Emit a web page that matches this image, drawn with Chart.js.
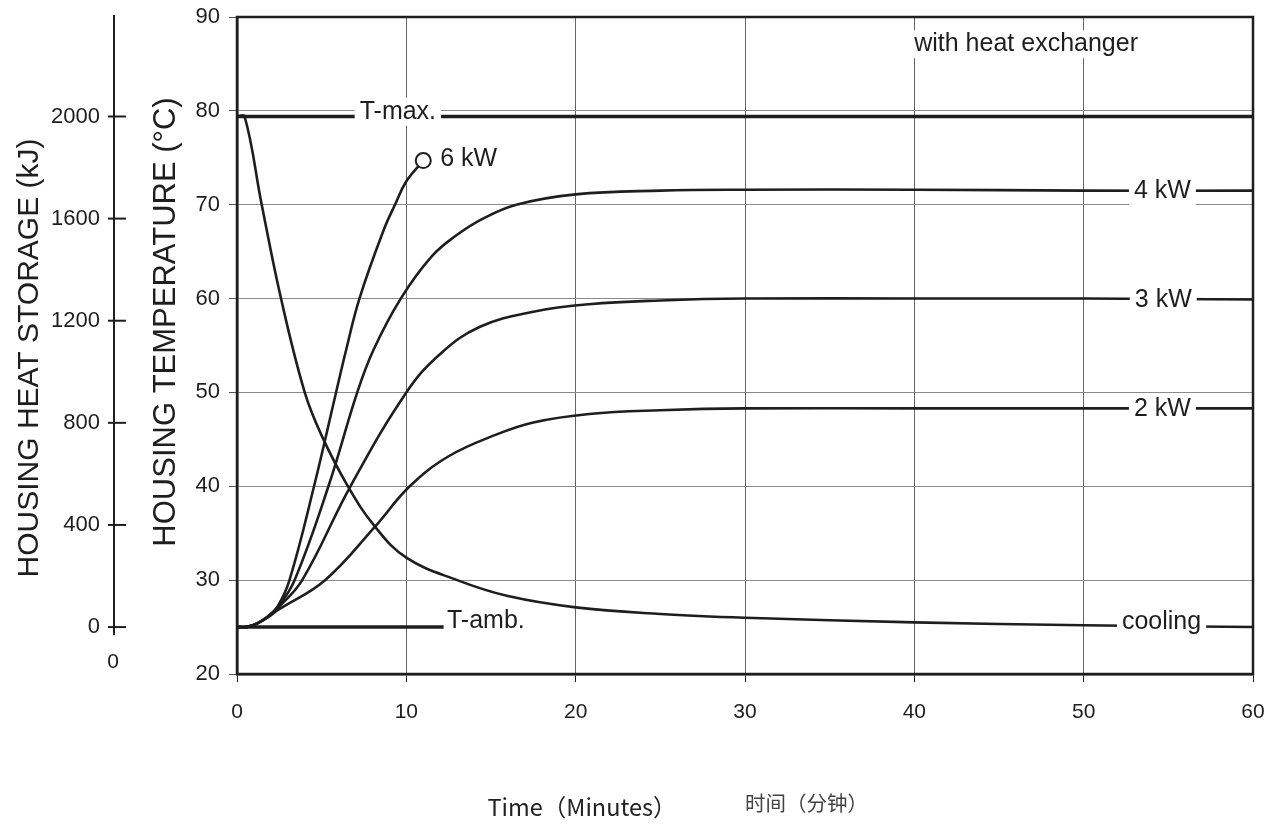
<!DOCTYPE html>
<html>
<head>
<meta charset="utf-8">
<script src="https://cdn.jsdelivr.net/npm/chart.js@4.4.1/dist/chart.umd.min.js"></script>
<style>
  html, body { margin: 0; padding: 0; background: #fff; }
  #wrap { width: 1279px; height: 825px; position: relative; }
</style>
</head>
<body>
<div id="wrap"><canvas id="grafico"></canvas></div>
<script>
// valores (tempo em minutos, temperatura em graus C)
var tempoCooling = [0, 0.45, 1.46, 2.6, 4.0, 5, 6.55, 8.15, 10, 13, 16, 20, 25, 30, 40, 50, 60];
var tempCooling  = [79.4, 79.4, 70, 60, 50, 45.4, 40, 35.7, 32.4, 30, 28.3, 27.1, 26.4, 26, 25.5, 25.2, 25];

var tempo6kW = [0, 0.6, 1.2, 1.8, 2.4, 3.1, 4.55, 5.85, 6.44, 7.23, 8.64, 9.33, 10, 11];
var temp6kW  = [25, 25.02, 25.4, 26.1, 27.2, 30, 40, 50, 54.5, 60, 67.2, 70, 72.5, 74.7];

var tempo4kW = [0, 0.6, 1.2, 1.8, 2.4, 3.4, 5.4, 7.1, 8.05, 9.67, 11.5, 13, 14.5, 16.5, 20, 25, 30, 40, 50, 60];
var temp4kW  = [25, 25.02, 25.4, 26.1, 27.1, 30, 40, 50, 54.5, 60, 64.5, 66.8, 68.5, 70, 71.1, 71.5, 71.6, 71.6, 71.5, 71.5];

var tempo3kW = [0, 0.6, 1.2, 1.8, 2.4, 3.85, 6.7, 10, 12, 14.35, 17.5, 20.8, 25, 30, 40, 50, 60];
var temp3kW  = [25, 25.02, 25.4, 26.05, 27.0, 30, 40, 50, 54.1, 57, 58.6, 59.4, 59.8, 60, 60, 60, 59.9];

var tempo2kW = [0, 0.6, 1.2, 1.8, 2.4, 5.2, 8.15, 10.2, 12.5, 15.3, 17.5, 20.8, 25, 30, 40, 50, 60];
var temp2kW  = [25, 25.02, 25.4, 26.0, 26.8, 30, 35.7, 40, 43.2, 45.5, 46.8, 47.7, 48.1, 48.3, 48.3, 48.3, 48.3];

var tempoTmax = [0, 60];
var tempTmax  = [79.4, 79.4];
var tempoTamb = [0, 12.2];
var tempTamb  = [25, 25];

var ticksTempo = [0, 10, 20, 30, 40, 50, 60];
var ticksTemp  = [20, 30, 40, 50, 60, 70, 80, 90];
var ticksKJ    = [0, 400, 800, 1200, 1600, 2000];

// calibracao do eixo kJ: 0 kJ = T-amb, 2000 kJ = T-max
var kjZeroTemp = 25;
var kjTopTemp = 79.4;
var kjPorGrau = 2000 / (kjTopTemp - kjZeroTemp);

// rotulos de texto (posicao em minutos / graus C)
var rotulos = [
  { texto: 'T-max.', x: 9.5, y: 79.9, align: 'center', fundo: true },
  { texto: '6 kW', x: 12.0, y: 74.9, align: 'left', fundo: false },
  { texto: '4 kW', x: 54.65, y: 71.4, align: 'center', fundo: true },
  { texto: '3 kW', x: 54.7, y: 59.8, align: 'center', fundo: true },
  { texto: '2 kW', x: 54.65, y: 48.2, align: 'center', fundo: true },
  { texto: 'cooling', x: 54.6, y: 25.5, align: 'center', fundo: true },
  { texto: 'T-amb.', x: 12.4, y: 25.6, align: 'left', fundo: false },
  { texto: 'with heat exchanger', x: 46.6, y: 87.1, align: 'center', fundo: true }
];

var FONTE = '"Liberation Sans", Arial, sans-serif';
var COR = '#1e1e1e';

function pontos(tempos, valores) {
  return tempos.map(function(t, i) { return { x: t, y: valores[i] }; });
}

function serie(rotulo, tempos, valores, largura) {
  return {
    label: rotulo,
    data: pontos(tempos, valores),
    borderColor: COR,
    borderWidth: largura || 2.6,
    pointRadius: 0,
    fill: false,
    tension: 0.4
  };
}

var serie6kW = serie('6 kW', tempo6kW, temp6kW);
serie6kW.pointRadius = function(ctx) { return ctx.dataIndex === tempo6kW.length - 1 ? 7.5 : 0; };
serie6kW.pointBackgroundColor = '#fff';
serie6kW.pointBorderColor = COR;
serie6kW.pointBorderWidth = 2;

function tituloVertical(ctx, texto, x, y, fonte) {
  ctx.save();
  ctx.font = fonte;
  ctx.translate(x, y);
  ctx.rotate(-Math.PI / 2);
  ctx.textAlign = 'center';
  ctx.textBaseline = 'middle';
  ctx.fillText(texto, 0, 0);
  ctx.restore();
}

// tira o recuo automatico dos rotulos para a area do grafico seguir o layout.padding
function semRecuo(s) {
  s.paddingTop = 0;
  s.paddingBottom = 0;
  s.paddingLeft = 0;
  s.paddingRight = 0;
}

var pluginDesenho = {
  id: 'desenho',
  afterDatasetsDraw: function(chart) {
    var ctx = chart.ctx;
    var area = chart.chartArea;
    var sx = chart.scales.x, sy = chart.scales.y, sk = chart.scales.y2;

    ctx.save();
    // moldura
    ctx.strokeStyle = COR;
    ctx.lineWidth = 2.5;
    ctx.strokeRect(area.left, area.top, area.right - area.left, area.bottom - area.top);

    // eixo kJ
    var ex = sk.right;
    ctx.lineWidth = 2;
    ctx.beginPath();
    ctx.moveTo(ex, area.top - 2);
    ctx.lineTo(ex, sk.getPixelForValue(-32));
    ctx.stroke();
    ticksKJ.forEach(function(v) {
      var py = sk.getPixelForValue(v);
      ctx.beginPath();
      ctx.moveTo(ex - 6, py);
      ctx.lineTo(ex + 12, py);
      ctx.stroke();
    });

    // rotulos
    ctx.font = '25px ' + FONTE;
    ctx.textBaseline = 'middle';
    rotulos.forEach(function(r) {
      var px = sx.getPixelForValue(r.x);
      var py = sy.getPixelForValue(r.y);
      var w = ctx.measureText(r.texto).width;
      var esq = r.align === 'center' ? px - w / 2 : px;
      if (r.fundo) {
        ctx.fillStyle = '#fff';
        ctx.fillRect(esq - 5, py - 14, w + 10, 28);
      }
      ctx.fillStyle = COR;
      ctx.textAlign = 'left';
      ctx.fillText(r.texto, esq, py);
    });

    // titulos dos eixos y
    ctx.fillStyle = COR;
    tituloVertical(ctx, 'HOUSING HEAT STORAGE (kJ)', 30, 358, '30px ' + FONTE);
    tituloVertical(ctx, 'HOUSING TEMPERATURE (°C)', 166, 322, '31px ' + FONTE);

    // "0" abaixo do eixo kJ
    ctx.font = '21px ' + FONTE;
    ctx.textAlign = 'center';
    ctx.textBaseline = 'middle';
    ctx.fillText('0', ex - 1, area.bottom - 12);

    // titulo do eixo x
    ctx.font = '23.5px "Noto Sans CJK SC", sans-serif';
    ctx.fillStyle = '#222';
    ctx.fillText('Time（Minutes）', 582, 807);
    ctx.font = '20.5px "Noto Sans CJK SC", sans-serif';
    ctx.fillStyle = '#444';
    ctx.textAlign = 'left';
    ctx.fillText('时间（分钟）', 745, 803);
    ctx.restore();
  }
};

new Chart(document.getElementById('grafico').getContext('2d'), {
  type: 'line',
  data: {
    datasets: [
      serie('T-max.', tempoTmax, tempTmax, 3.5),
      serie('T-amb.', tempoTamb, tempTamb, 3.5),
      serie('cooling', tempoCooling, tempCooling),
      serie6kW,
      serie('4 kW', tempo4kW, temp4kW),
      serie('3 kW', tempo3kW, temp3kW),
      serie('2 kW', tempo2kW, temp2kW)
    ]
  },
  options: {
    responsive: true,
    maintainAspectRatio: false,
    animation: false,
    devicePixelRatio: 1,
    layout: { padding: { top: 17, right: 26, left: 0, bottom: 0 } },
    plugins: { legend: { display: false }, tooltip: { enabled: false } },
    scales: {
      x: {
        type: 'linear', min: 0, max: 60,
        afterBuildTicks: function(s) { s.ticks = ticksTempo.map(function(v) { return { value: v }; }); },
        ticks: { font: { family: FONTE, size: 21 }, color: COR, padding: 18 },
        grid: { color: '#666', lineWidth: 1, tickLength: 8, tickColor: COR },
        border: { color: COR, width: 2.5 },
        afterFit: function(s) { s.height = 151; semRecuo(s); }
      },
      y: {
        position: 'left', weight: 0, min: 20, max: 90,
        afterBuildTicks: function(s) { s.ticks = ticksTemp.map(function(v) { return { value: v }; }); },
        ticks: { font: { family: FONTE, size: 22 }, color: COR, padding: 9 },
        grid: { color: '#8a8a8a', lineWidth: 1, tickLength: 8, tickColor: '#555' },
        border: { color: COR, width: 2.5 },
        afterFit: function(s) { s.width = 123; semRecuo(s); }
      },
      y2: {
        position: 'left', weight: 1,
        min: (20 - kjZeroTemp) * kjPorGrau,
        max: (90 - kjZeroTemp) * kjPorGrau,
        afterBuildTicks: function(s) { s.ticks = ticksKJ.map(function(v) { return { value: v }; }); },
        ticks: {
          font: { family: FONTE, size: 22 }, color: COR, padding: 6,
          callback: function(v) { return String(v); }
        },
        grid: { display: false, drawOnChartArea: false },
        border: { display: false },
        afterFit: function(s) { s.width = 114; semRecuo(s); }
      }
    }
  },
  plugins: [pluginDesenho]
});
</script>
</body>
</html>
